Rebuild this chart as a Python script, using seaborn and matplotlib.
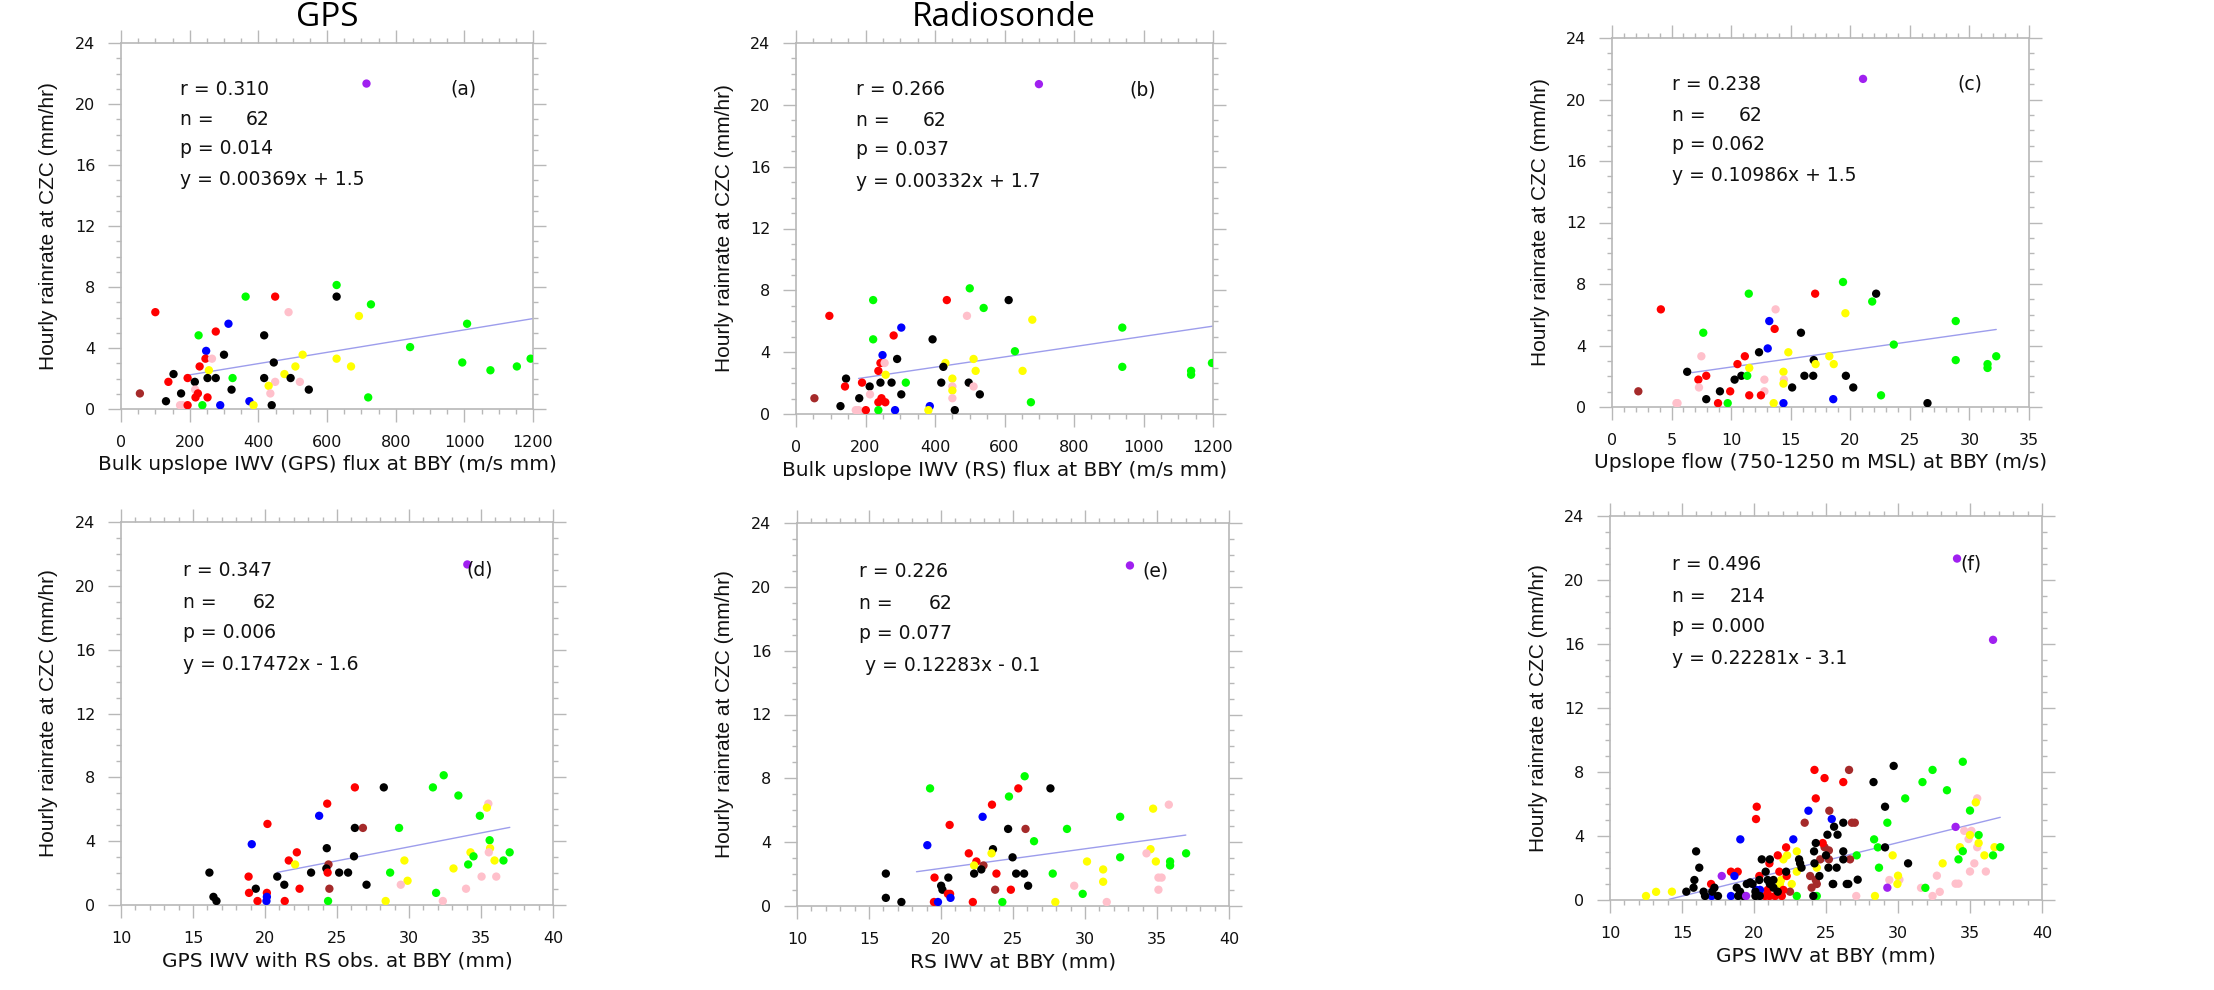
import numpy as np
import pandas as pd
import matplotlib
matplotlib.use("Agg")
import matplotlib.pyplot as plt
import seaborn as sns
from matplotlib.ticker import MultipleLocator

sns.set_theme(style="white")
plt.rcParams["font.family"] = ["DejaVu Sans"]

# ---------------------------------------------------------------- colours
PALETTE = {"k": "#000000", "r": "#ff0000", "g": "#00ff00", "b": "#0000ff",
           "y": "#ffff00", "p": "#ffc0cb", "n": "#a52a2a", "v": "#a020f0"}

# ---------------------------------------------------------------- data
# hourly rain rate at CZC (mm/hr) and event colour code, panels (a)-(c)
rain_abc = [21.34, 8.13, 7.37, 7.37, 7.37, 6.86, 6.35, 6.35, 6.10, 5.59,
            5.59, 4.83, 5.08, 4.83, 3.81, 4.06, 3.56, 3.56, 3.30, 3.30,
            3.30, 3.30, 3.05, 3.05, 2.79, 2.79, 2.79, 2.79, 2.54, 2.54,
            2.29, 2.29, 2.03, 2.03, 2.03, 2.03, 2.03, 2.03, 1.78, 1.78,
            1.78, 1.78, 1.52, 1.27, 1.27, 1.27, 1.02, 1.02, 1.02, 1.02,
            0.76, 0.76, 0.76, 0.51, 0.51, 0.25, 0.25, 0.25, 0.25, 0.25,
            0.25, 0.25]
color_abc = "vgkgrgrpybgkrgbgkyrpygkgryygygkyrkkgkkrkppypkknkrprrgkbpprgbyk"

# bulk upslope IWV flux, GPS (m/s mm)
flux_gps = [715, 628, 628, 363, 449, 728, 100, 488, 693, 313,
            1008, 417, 276, 226, 248, 842, 300, 529, 246, 265,
            628, 1193, 445, 994, 229, 508, 670, 1153, 256, 1076,
            153, 476, 194, 252, 276, 325, 417, 494, 138, 215,
            449, 521, 430, 216, 322, 547, 55, 175, 224, 435,
            217, 252, 720, 131, 374, 172, 180, 194, 237, 289,
            386, 439]
# bulk upslope IWV flux, radiosonde (m/s mm)
flux_rs = [699, 500, 612, 222, 434, 540, 96, 492, 680, 303,
           939, 393, 281, 222, 249, 630, 291, 511, 243, 255,
           430, 1197, 424, 939, 237, 517, 652, 1137, 258, 1137,
           144, 450, 190, 243, 275, 316, 418, 497, 141, 212,
           450, 511, 450, 213, 303, 529, 53, 182, 246, 450,
           237, 257, 676, 128, 385, 172, 180, 201, 237, 285,
           381, 457]
# upslope flow 750-1250 m MSL (m/s)
upslope = [21.07, 19.39, 22.17, 11.48, 17.05, 21.84, 4.10, 13.73, 19.59, 13.20,
           28.85, 15.86, 13.65, 7.66, 13.07, 23.65, 12.34, 14.80, 11.15, 7.50,
           18.24, 32.25, 16.93, 28.85, 10.53, 17.09, 18.61, 31.52, 11.52, 31.52,
           6.31, 14.39, 7.91, 10.86, 16.15, 11.35, 16.89, 19.63, 7.25, 10.29,
           12.79, 14.43, 14.39, 7.30, 15.12, 20.25, 2.21, 9.06, 9.92, 12.79,
           11.52, 12.50, 22.58, 7.91, 18.57, 5.41, 5.50, 8.90, 9.71, 14.39,
           13.57, 26.48]

# panels (d)-(e): rain rate and colour code
rain_de = [21.34, 8.13, 7.37, 7.37, 7.37, 6.86, 6.35, 6.35, 6.10, 5.59,
           5.59, 5.08, 4.83, 4.83, 4.83, 3.81, 4.06, 3.56, 3.56, 3.30,
           3.30, 3.30, 3.30, 3.05, 3.05, 2.79, 2.79, 2.79, 2.79, 2.54,
           2.54, 2.54, 2.29, 2.29, 2.03, 2.03, 2.03, 2.03, 2.03, 2.03,
           1.78, 1.78, 1.78, 1.78, 1.52, 1.27, 1.27, 1.27, 1.02, 1.02,
           1.02, 1.02, 0.76, 0.76, 0.76, 0.51, 0.51, 0.25, 0.25, 0.25,
           0.25, 0.25, 0.25, 0.25]
color_de = "vgrkggrpybgrkngbgkyrpygkgryygyngkykkrkkgrkppypkkkrnprrgkbkrbrgyp"
# GPS IWV at RS launch times (mm)
iwv_gps_rs = [34.05, 32.41, 26.24, 28.25, 31.66, 33.43, 24.32, 35.51, 35.41, 23.76,
              34.92, 20.17, 26.24, 26.80, 29.31, 19.08, 35.60, 24.29, 35.63, 22.21,
              35.54, 34.27, 36.99, 26.18, 34.48, 21.65, 29.68, 35.94, 36.56, 22.09,
              24.41, 34.11, 24.26, 33.09, 16.14, 23.20, 24.35, 25.15, 25.77, 28.69,
              18.86, 20.85, 35.04, 36.06, 29.90, 29.43, 21.34, 27.05, 19.36, 22.40,
              24.47, 33.96, 18.89, 20.13, 31.88, 16.42, 20.13, 16.63, 19.48, 20.10,
              21.37, 24.38, 28.38, 32.35]
# radiosonde IWV (mm)
iwv_rs = [33.12, 25.81, 25.37, 27.60, 19.24, 24.72, 23.54, 35.82, 34.73, 22.89,
          32.44, 20.60, 24.66, 25.87, 28.75, 19.05, 26.46, 23.61, 34.55, 21.93,
          34.27, 23.51, 37.02, 24.97, 32.44, 22.46, 30.14, 34.92, 35.91, 22.30,
          22.95, 35.91, 22.80, 31.26, 16.17, 22.30, 23.85, 25.22, 25.77, 27.76,
          19.55, 20.51, 35.10, 35.32, 31.26, 29.25, 20.01, 26.05, 20.10, 24.85,
          23.76, 35.10, 20.48, 20.63, 29.84, 16.17, 20.66, 17.25, 19.51, 19.79,
          22.21, 24.26, 27.94, 31.51]

# panel (f): all hours, GPS IWV (mm) and rain rate (mm/hr) per colour group
f_pink_x = [29.4, 27.1, 30.1, 31.6, 32.4, 32.7, 32.9, 34.0, 34.2, 34.6, 35.0,
            35.3, 35.5, 35.5, 36.1, 35.1, 34.9]
f_pink_y = [1.25, 0.25, 1.27, 0.76, 0.25, 1.52, 0.51, 1.02, 1.02, 4.32, 1.78,
            2.29, 3.30, 6.35, 1.78, 4.32, 3.81]
f_yellow_x = [12.5, 13.2, 14.3, 22.97, 22.3, 29.63, 22.04, 22.97, 24.36, 21.88,
              22.62, 29.96, 21.8, 28.4, 30.0, 33.1, 34.3, 35.0, 35.4, 35.6,
              36.0, 36.7]
f_yellow_y = [0.25, 0.51, 0.52, 3.04, 2.79, 2.79, 2.54, 1.77, 2.02, 1.25,
              1.00, 1.00, 1.00, 0.25, 1.52, 2.29, 3.30, 4.06, 6.10, 3.56,
              2.79, 3.30]
f_green_x = [34.5, 32.4, 31.7, 33.4, 30.5, 35.0, 35.6, 37.1, 34.5, 36.6, 34.2,
             31.9, 29.26, 28.34, 28.6, 27.13, 28.68, 22.97, 24.36]
f_green_y = [8.64, 8.13, 7.37, 6.86, 6.35, 5.59, 4.06, 3.30, 3.05, 2.79, 2.54,
             0.76, 4.83, 3.79, 3.29, 2.79, 2.02, 0.25, 0.25]
f_brown_x = [26.6, 25.23, 23.52, 26.8, 27.0, 24.9, 25.2, 24.6, 25.2, 26.67,
             23.9, 24.29, 22.5, 24.0, 24.36]
f_brown_y = [8.13, 5.58, 4.83, 4.83, 4.83, 3.30, 3.10, 2.54, 2.54, 2.54,
             1.50, 1.25, 0.52, 0.77, 1.00]
f_red_x = [24.2, 24.9, 26.2, 24.29, 20.19, 20.14, 24.77, 22.23, 21.65, 21.07,
           18.4, 18.87, 21.76, 20.37, 22.27, 17.02, 20.77, 21.07, 21.46, 21.93,
           20.95, 22.04]
f_red_y = [8.13, 7.62, 7.37, 6.35, 5.83, 5.06, 3.56, 3.29, 2.79, 2.29,
           1.77, 1.77, 1.77, 1.50, 1.50, 1.00, 0.25, 0.25, 0.25, 0.25,
           0.63, 0.63]
f_blue_x = [23.78, 25.4, 19.05, 22.73, 18.64, 18.4, 17.06, 20.14, 20.42]
f_blue_y = [5.58, 5.06, 3.79, 3.79, 1.50, 0.25, 0.25, 0.63, 0.63]
f_black_x = [29.7, 28.3, 30.7, 26.2, 29.1, 25.56, 25.1, 25.8, 24.29, 15.98,
             24.17, 26.2, 29.1, 25.0, 20.54, 21.1, 23.13, 24.2, 26.2, 23.2,
             16.2, 20.81, 22.23, 25.17, 25.74, 24.54, 15.86, 19.73, 20.37, 20.95,
             21.35, 25.47, 26.55, 15.3, 15.8, 16.5, 17.25, 17.1, 16.6, 17.5,
             18.8, 19.03, 19.26, 19.5, 20.1, 20.1, 20.4, 21.1, 21.35, 21.65,
             24.12, 25.5, 26.44, 27.2, 18.9, 19.9, 23.3]
f_black_y = [8.38, 7.37, 2.29, 4.83, 5.83, 4.58, 4.08, 4.08, 3.56, 3.04,
             3.04, 3.04, 3.29, 2.79, 2.54, 2.54, 2.54, 2.29, 2.54, 2.29,
             2.02, 1.77, 1.77, 2.02, 2.02, 1.50, 1.25, 1.10, 1.25, 1.25,
             1.25, 1.00, 1.00, 0.52, 0.77, 0.52, 0.77, 0.52, 0.25, 0.25,
             0.77, 0.52, 0.25, 1.00, 0.52, 0.25, 0.25, 1.00, 0.77, 0.52,
             0.25, 1.00, 1.00, 1.27, 0.25, 1.00, 2.02]
f_purple_x = [34.1, 36.6, 34.0, 17.76, 29.26, 19.45]
f_purple_y = [21.34, 16.26, 4.57, 1.50, 0.77, 0.25]

f_groups = [("p", f_pink_x, f_pink_y), ("y", f_yellow_x, f_yellow_y),
            ("g", f_green_x, f_green_y), ("n", f_brown_x, f_brown_y),
            ("r", f_red_x, f_red_y), ("b", f_blue_x, f_blue_y),
            ("k", f_black_x, f_black_y), ("v", f_purple_x, f_purple_y)]
iwv_all = [x for _, gx, _ in f_groups for x in gx]
rain_all = [y for _, _, gy in f_groups for y in gy]
color_all = "".join(c * len(gx) for c, gx, _ in f_groups)

# statistics printed in each panel: r, n, p, slope, intercept, fit range
stats = {
    "a": ("0.310", 62, "0.014", 0.00369, 1.5, 192, 1200, "y = 0.00369x + 1.5"),
    "b": ("0.266", 62, "0.037", 0.00332, 1.7, 180, 1200, "y = 0.00332x + 1.7"),
    "c": ("0.238", 62, "0.062", 0.10986, 1.5, 6.7, 32.25, "y = 0.10986x + 1.5"),
    "d": ("0.347", 62, "0.006", 0.17472, -1.6, 20.85, 37.0, "y = 0.17472x - 1.6"),
    "e": ("0.226", 62, "0.077", 0.12283, -0.1, 18.3, 37.0, " y = 0.12283x - 0.1"),
    "f": ("0.496", 214, "0.000", 0.22281, -3.1, 14.1, 37.1, "y = 0.22281x - 3.1"),
}

xlabels = {
    "a": "Bulk upslope IWV (GPS) flux at BBY (m/s mm)",
    "b": "Bulk upslope IWV (RS) flux at BBY (m/s mm)",
    "c": "Upslope flow (750-1250 m MSL) at BBY (m/s)",
    "d": "GPS IWV with RS obs. at BBY (mm)",
    "e": "RS IWV at BBY (mm)",
    "f": "GPS IWV at BBY (mm)",
}
ylabel = "Hourly rainrate at CZC (mm/hr)"

panels = {
    "a": (flux_gps, rain_abc, color_abc),
    "b": (flux_rs, rain_abc, color_abc),
    "c": (upslope, rain_abc, color_abc),
    "d": (iwv_gps_rs, rain_de, color_de),
    "e": (iwv_rs, rain_de, color_de),
    "f": (iwv_all, rain_all, color_all),
}

# x-axis range, major and minor step per panel
xaxis = {"a": (0, 1200, 200, 50), "b": (0, 1200, 200, 50), "c": (0, 35, 5, 1),
         "d": (10, 40, 5, 1), "e": (10, 40, 5, 1), "f": (10, 40, 5, 1)}

# ---------------------------------------------------------------- layout (pixels)
W, H = 2214, 990
boxes = {"a": (121, 533, 43, 409), "b": (796, 1213, 43, 414),
         "c": (1612, 2029, 38, 407), "d": (121, 553, 522, 905),
         "e": (797, 1229, 523, 906), "f": (1610, 2042, 516, 900)}

fig = plt.figure(figsize=(W / 100, H / 100), dpi=100)
fig.patch.set_facecolor("white")

GRID = "#b8b8b8"
FIT = "#9d9dec"

for key, (L, R, T, B) in boxes.items():
    ax = fig.add_axes([L / W, 1 - B / H, (R - L) / W, (B - T) / H])
    xs, ys, cs = panels[key]
    df = pd.DataFrame({"x": xs, "y": ys, "c": list(cs)})
    sns.scatterplot(data=df, x="x", y="y", hue="c", palette=PALETTE,
                    legend=False, s=36, linewidth=0, ax=ax, zorder=3)

    r, n, p, m, b0, x0, x1, eq = stats[key]
    fx = np.array([x0, x1])
    sns.lineplot(x=fx, y=m * fx + b0, color=FIT, linewidth=1.0, ax=ax, zorder=2)

    xmin, xmax, major, minor = xaxis[key]
    ax.set_xlim(xmin, xmax)
    ax.set_ylim(0, 24)
    ax.xaxis.set_major_locator(MultipleLocator(major))
    ax.xaxis.set_minor_locator(MultipleLocator(minor))
    ax.yaxis.set_major_locator(MultipleLocator(4))
    ax.yaxis.set_minor_locator(MultipleLocator(1))
    ax.tick_params(which="both", direction="out", color=GRID, width=1.0,
                   top=True, right=True, bottom=True, left=True,
                   labelsize=11.5, labelcolor="#111111", pad=9)
    ax.tick_params(which="major", length=9.5)
    ax.tick_params(which="minor", length=3.5)
    for sp in ax.spines.values():
        sp.set_color(GRID)
        sp.set_linewidth(1.2)
    ax.set_facecolor("white")

    pw, ph = R - L, B - T
    ax.set_xlabel(xlabels[key], fontsize=14.5, color="#111111")
    ax.xaxis.label.set_va("center")
    ax.xaxis.set_label_coords(0.5, -56 / ph)
    ax.set_ylabel(ylabel, fontsize=15, color="#111111",
                  family=["Liberation Sans", "DejaVu Sans"])
    ax.yaxis.label.set_va("center")
    ax.yaxis.set_label_coords(-72 / pw, 0.5)

    tx = 0.143
    kw = dict(transform=ax.transAxes, va="center", fontsize=13.5, color="#111111")
    ax.text(tx, 0.874, f"r = {r}", ha="left", **kw)
    ax.text(tx, 0.790, "n =", ha="left", **kw)
    ax.text(0.36, 0.790, f"{n}", ha="right", **kw)
    ax.text(tx, 0.712, f"p = {p}", ha="left", **kw)
    ax.text(tx, 0.628, eq, ha="left", **kw)
    lx = {"c": 0.828, "f": 0.81}.get(key, 0.80)
    ax.text(lx, 0.874, f"({key})", ha="left", **kw)

fig.text(327 / W, 1 - 17 / H, "GPS", ha="center", va="center",
         fontsize=24, family=["Open Sans", "DejaVu Sans"], color="#000000")
fig.text(1004 / W, 1 - 18 / H, "Radiosonde", ha="center", va="center",
         fontsize=24, family=["Open Sans", "DejaVu Sans"], color="#000000")

fig.savefig("out.png", dpi=100, facecolor="white")
